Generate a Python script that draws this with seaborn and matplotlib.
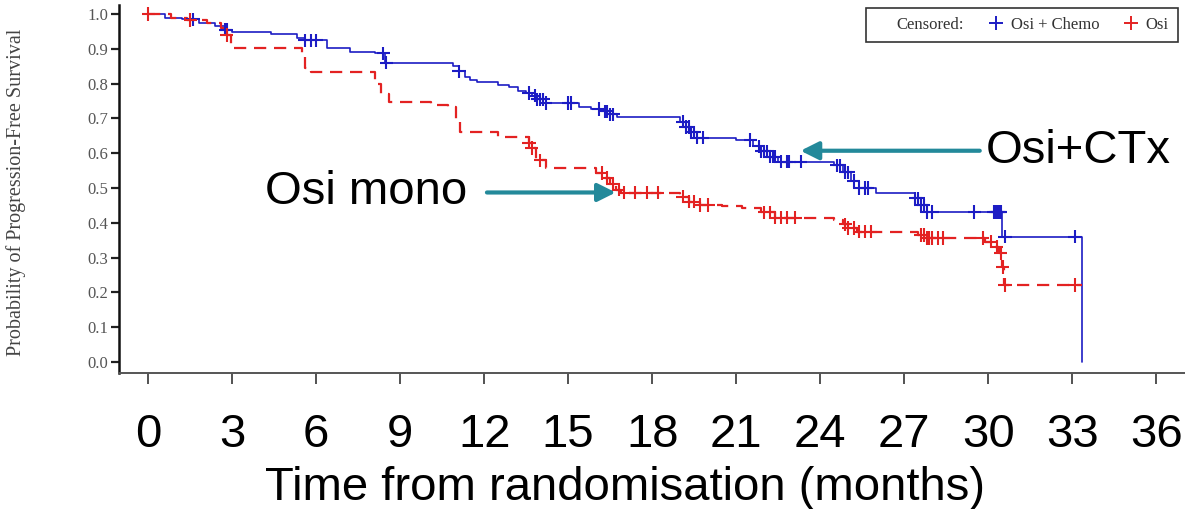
import numpy as np
import pandas as pd
import matplotlib
matplotlib.use("Agg")
import matplotlib.pyplot as plt
from matplotlib.lines import Line2D
import seaborn as sns

# ---------------- data ----------------
chemo_time = [0, 0.6, 1.2, 1.8, 2.4, 2.75, 3.0, 4.4, 5.3, 5.6, 6.4, 7.2, 8.1, 8.45,
              10.9, 11.1, 11.3, 11.5, 11.75, 12.5, 12.9, 13.2, 13.5, 13.7, 13.9, 14.2,
              15.4, 15.8, 16.2, 16.5, 16.75, 19.0, 19.2, 19.35, 19.6, 21.0, 21.6, 21.9,
              22.2, 22.5, 24.5, 24.8, 25.1, 25.4, 26.0, 27.4, 27.6, 27.8, 30.5, 33.35]
chemo_surv = [1.0, 0.99, 0.985, 0.975, 0.965, 0.955, 0.948, 0.942, 0.932, 0.925, 0.902,
              0.89, 0.887, 0.86, 0.85, 0.835, 0.82, 0.81, 0.805, 0.796, 0.79, 0.78, 0.773,
              0.765, 0.755, 0.744, 0.733, 0.727, 0.72, 0.712, 0.704, 0.69, 0.675, 0.66,
              0.644, 0.638, 0.62, 0.605, 0.59, 0.575, 0.565, 0.545, 0.52, 0.5, 0.486,
              0.47, 0.45, 0.431, 0.36, 0.0]
chemo_censor = [1.6, 2.75, 2.8, 5.6, 5.8, 6.0, 8.4, 8.5, 11.1, 13.6, 13.8, 13.9, 14.0,
                14.1, 14.2, 15.0, 15.1, 16.1, 16.3, 16.4, 16.5, 16.6, 19.1, 19.2, 19.3,
                19.4, 19.5, 19.6, 19.8, 21.5, 21.8, 21.9, 22.0, 22.1, 22.2, 22.3, 22.4,
                22.6, 22.8, 22.9, 23.3, 24.6, 24.7, 24.9, 25.0, 25.2, 25.4, 25.6, 25.7,
                27.4, 27.5, 27.6, 27.7, 27.8, 28.0, 29.5, 30.2, 30.25, 30.3, 30.35, 30.4,
                30.45, 30.6, 33.1]

osi_time = [0, 0.8, 1.4, 2.1, 2.6, 2.8, 2.95, 3.05, 5.5, 5.6, 5.8, 8.1, 8.3, 8.6, 10.1,
            10.7, 11.0, 11.15, 12.5, 13.6, 13.7, 13.85, 14.2, 16.0, 16.3, 16.5, 16.7,
            16.9, 19.0, 19.3, 19.7, 20.5, 21.2, 21.9, 22.4, 24.5, 24.8, 25.0, 25.3, 27.5,
            27.8, 29.9, 30.2, 30.4, 30.5, 30.55, 33.3]
osi_surv = [1.0, 0.99, 0.983, 0.974, 0.96, 0.94, 0.915, 0.902, 0.88, 0.845, 0.833, 0.8,
            0.77, 0.747, 0.739, 0.733, 0.69, 0.661, 0.647, 0.63, 0.615, 0.58, 0.557,
            0.543, 0.53, 0.51, 0.495, 0.486, 0.475, 0.46, 0.451, 0.448, 0.443, 0.43,
            0.414, 0.408, 0.395, 0.385, 0.374, 0.365, 0.356, 0.345, 0.33, 0.313, 0.273,
            0.221, 0.221]
osi_censor = [0.0, 1.5, 2.8, 13.6, 13.7, 14.0, 16.2, 16.4, 16.6, 16.8, 17.0, 17.4, 17.8,
              18.2, 19.1, 19.3, 19.5, 19.7, 20.0, 22.0, 22.2, 22.4, 22.6, 22.8, 23.1,
              24.9, 25.0, 25.2, 25.4, 25.6, 25.8, 27.6, 27.7, 27.8, 27.9, 28.0, 28.2,
              28.4, 29.8, 30.1, 30.3, 30.45, 30.52, 30.6, 33.1]

arms = ["Osi + Chemo", "Osi"]
x_ticks = list(range(0, 37, 3))
y_ticks = [round(0.1 * i, 1) for i in range(11)]

# ---------------- style ----------------
BLUE = "#1c1cc4"
RED = "#e32222"
TEAL = "#23899a"
BIG = 34

sns.set_theme(style="ticks")
plt.rcParams["font.family"] = ["Liberation Sans", "DejaVu Sans"]

fig = plt.figure(figsize=(11.85, 5.09), dpi=100)
ax = fig.add_axes([119 / 1185, 1 - 373 / 509, 1 - 119 / 1185, (373 - 5) / 509])

curves = pd.concat([
    pd.DataFrame({"time": chemo_time, "surv": chemo_surv, "arm": arms[0]}),
    pd.DataFrame({"time": osi_time, "surv": osi_surv, "arm": arms[1]}),
], ignore_index=True)


def censor_frame(times, steps_t, steps_s, arm):
    idx = np.searchsorted(np.asarray(steps_t), np.asarray(times), side="right") - 1
    return pd.DataFrame({"time": times, "surv": np.asarray(steps_s)[idx], "arm": arm})


cens = pd.concat([
    censor_frame(chemo_censor, chemo_time, chemo_surv, arms[0]),
    censor_frame(osi_censor, osi_time, osi_surv, arms[1]),
], ignore_index=True)

palette = {arms[0]: BLUE, arms[1]: RED}
sns.lineplot(data=curves, x="time", y="surv", hue="arm", style="arm", size="arm",
             palette=palette, dashes={arms[0]: "", arms[1]: (5.5, 3.5)},
             sizes={arms[0]: 1.2, arms[1]: 1.6}, drawstyle="steps-post",
             estimator=None, sort=False, legend=False, ax=ax)
sns.scatterplot(data=cens, x="time", y="surv", hue="arm", palette=palette,
                marker="+", s=90, linewidth=1.5, legend=False, ax=ax, zorder=3)

ax.set_xlim(-1.04, 37.03)
ax.set_ylim(-0.032, 1.026)
ax.set_xticks(x_ticks)
ax.set_xticklabels([str(v) for v in x_ticks], fontsize=BIG, color="black")
ax.set_yticks(y_ticks)
ax.set_yticklabels([f"{v:.1f}" for v in y_ticks], fontsize=12, color="#555555",
                   family=["Liberation Serif"])
ax.tick_params(axis="x", direction="out", length=8, width=1.3, color="#444444", pad=21)
ax.tick_params(axis="y", direction="out", length=6, width=1.6, color="#222222", pad=2)
for s in ["top", "right"]:
    ax.spines[s].set_visible(False)
ax.spines["left"].set_color("#111111")
ax.spines["left"].set_linewidth(1.8)
ax.spines["bottom"].set_color("#555555")
ax.spines["bottom"].set_linewidth(1.4)

ax.set_xlabel("Time from randomisation (months)", fontsize=BIG, color="black")
ax.xaxis.set_label_coords((625 - 119) / 1066, (373 - 466) / 368)
ax.set_ylabel("Probability of Progression-Free Survival", fontsize=14.5,
              color="#444444", family=["Liberation Serif"])
ax.yaxis.set_label_coords((26 - 119) / 1066, (373 - 192) / 368)

# annotations
ax.annotate("", xy=(16.7, 0.487), xytext=(12.1, 0.487),
            arrowprops=dict(arrowstyle="-|>,head_length=0.9,head_width=0.45",
                            color=TEAL, lw=3, shrinkA=0, shrinkB=0))
ax.text(7.8, 0.487, "Osi mono", fontsize=BIG, ha="center", va="center", color="black")
ax.annotate("", xy=(23.3, 0.607), xytext=(29.7, 0.607),
            arrowprops=dict(arrowstyle="-|>,head_length=0.9,head_width=0.45",
                            color=TEAL, lw=3, shrinkA=0, shrinkB=0))
ax.text(33.2, 0.607, "Osi+CTx", fontsize=BIG, ha="center", va="center", color="black")

# legend
handles = [Line2D([], [], linestyle="none"),
           Line2D([], [], linestyle="none", marker="+", color=BLUE, markersize=10,
                  markeredgewidth=1.4),
           Line2D([], [], linestyle="none", marker="+", color=RED, markersize=10,
                  markeredgewidth=1.4)]
labels = ["Censored:", "Osi + Chemo", "Osi"]
leg = ax.legend(handles, labels, ncol=3, loc="upper right",
                bbox_to_anchor=(1178 / 1185, 1 - 8 / 509), bbox_transform=fig.transFigure,
                borderaxespad=0, frameon=True, fancybox=False, shadow=False,
                prop={"family": "Liberation Serif", "size": 12},
                handlelength=0.8, handletextpad=0.5, columnspacing=1.5,
                borderpad=0.55)
leg.get_frame().set_edgecolor("black")
leg.get_frame().set_linewidth(1.2)
for t in leg.get_texts():
    t.set_color("#333333")

fig.savefig("out.png", dpi=100)
